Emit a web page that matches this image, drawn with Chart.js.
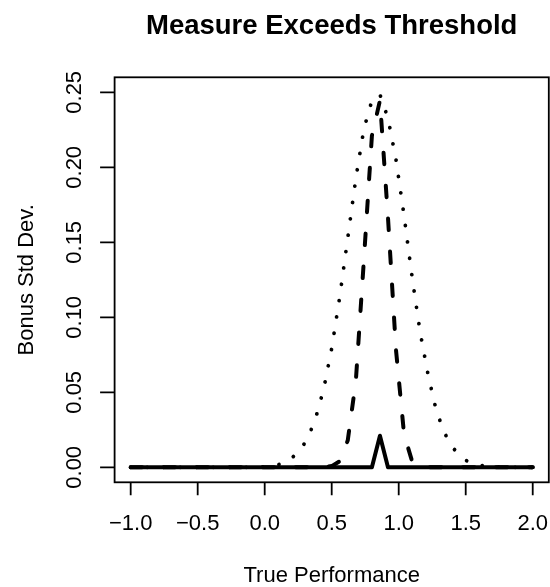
<!DOCTYPE html>
<html>
<head>
<meta charset="utf-8">
<script src="https://cdn.jsdelivr.net/npm/chart.js@4/dist/chart.umd.min.js"></script>
<style>
  html, body { margin: 0; padding: 0; background: #ffffff; }
  #wrap { width: 550px; height: 587px; }
</style>
</head>
<body>
<div id="wrap"><canvas id="c" width="550" height="587"></canvas></div>
<script>
// ---- Data ----
const chartTitle = "Measure Exceeds Threshold";
const xAxisTitle = "True Performance";
const yAxisTitle = "Bonus Std Dev.";

const xGrid = [-1.00, -0.94, -0.88, -0.82, -0.76, -0.70, -0.64, -0.58, -0.52, -0.46,
               -0.40, -0.34, -0.28, -0.22, -0.16, -0.10, -0.04, 0.02, 0.08, 0.14,
                0.20, 0.26, 0.32, 0.38, 0.44, 0.50, 0.56, 0.62, 0.68, 0.74,
                0.80, 0.86, 0.92, 0.98, 1.04, 1.10, 1.16, 1.22, 1.28, 1.34,
                1.40, 1.46, 1.52, 1.58, 1.64, 1.70, 1.76, 1.82, 1.88, 1.94, 2.00];

// solid line (narrowest)
const solidValues = [0, 0, 0, 0, 0, 0, 0, 0, 0, 0,
                     0, 0, 0, 0, 0, 0, 0, 0, 0, 0,
                     0, 0, 0, 0, 0, 0, 0, 0, 0, 0,
                     0, 0.021, 0, 0, 0, 0, 0, 0, 0, 0,
                     0, 0, 0, 0, 0, 0, 0, 0, 0, 0, 0];

// dashed line (medium)
const dashedValues = [0, 0, 0, 0, 0, 0, 0, 0, 0, 0,
                      0, 0, 0, 0, 0, 0, 0, 0, 0, 0,
                      0, 0, 0, 0, 0, 0.0008, 0.004, 0.018, 0.0575, 0.138,
                      0.221, 0.2445, 0.1665, 0.078, 0.022, 0.004, 0.0004, 0, 0, 0,
                      0, 0, 0, 0, 0, 0, 0, 0, 0, 0, 0];

// dotted line (widest)
const dottedValues = [0, 0, 0, 0, 0, 0, 0, 0, 0, 0,
                      0, 0, 0, 0, 0, 0, 0, 0.0003, 0.001, 0.003,
                      0.006, 0.011, 0.019, 0.0327, 0.052, 0.0793, 0.1137, 0.153, 0.1925, 0.2255,
                      0.2445, 0.2485, 0.2327, 0.205, 0.1677, 0.1267, 0.090, 0.0614, 0.038, 0.0232,
                      0.0134, 0.0075, 0.0035, 0.0018, 0.0009, 0.0004, 0.0001, 0, 0, 0, 0];

const xTickValues = [-1.0, -0.5, 0.0, 0.5, 1.0, 1.5, 2.0];
const xTickLabels = ["\u22121.0", "\u22120.5", "0.0", "0.5", "1.0", "1.5", "2.0"];
const yTickValues = [0.00, 0.05, 0.10, 0.15, 0.20, 0.25];
const yTickLabels = ["0.00", "0.05", "0.10", "0.15", "0.20", "0.25"];

// ---- Build ----
function pts(vals) { return xGrid.map((x, i) => ({ x: x, y: vals[i] })); }

const FONT = '"Liberation Sans", Arial, Helvetica, sans-serif';

const axesPlugin = {
  id: 'rAxes',
  afterDraw(chart) {
    const ctx = chart.ctx;
    const ca = chart.chartArea;
    const xs = chart.scales.x, ys = chart.scales.y;
    ctx.save();
    ctx.strokeStyle = '#000';
    ctx.fillStyle = '#000';
    ctx.lineWidth = 1.8;
    ctx.lineCap = 'butt';
    ctx.setLineDash([]);
    // box
    ctx.strokeRect(ca.left, ca.top, ca.right - ca.left, ca.bottom - ca.top);
    // x ticks
    ctx.beginPath();
    xTickValues.forEach(v => {
      const px = xs.getPixelForValue(v);
      ctx.moveTo(px, ca.bottom);
      ctx.lineTo(px, ca.bottom + 13);
    });
    // y ticks
    yTickValues.forEach(v => {
      const py = ys.getPixelForValue(v);
      ctx.moveTo(ca.left, py);
      ctx.lineTo(ca.left - 14.5, py);
    });
    ctx.stroke();

    // x tick labels
    ctx.font = '22px ' + FONT;
    ctx.textAlign = 'center';
    ctx.textBaseline = 'alphabetic';
    xTickValues.forEach((v, i) => {
      ctx.fillText(xTickLabels[i], xs.getPixelForValue(v), ca.bottom + 48);
    });
    // y tick labels (rotated)
    yTickValues.forEach((v, i) => {
      const py = ys.getPixelForValue(v);
      ctx.save();
      ctx.translate(ca.left - 33.5, py);
      ctx.rotate(-Math.PI / 2);
      ctx.fillText(yTickLabels[i], 0, 0);
      ctx.restore();
    });
    // x axis title
    const cx = (ca.left + ca.right) / 2;
    ctx.fillText(xAxisTitle, cx, ca.bottom + 99.5);
    // y axis title
    ctx.save();
    ctx.translate(ca.left - 81.5, (ca.top + ca.bottom) / 2);
    ctx.rotate(-Math.PI / 2);
    ctx.fillText(yAxisTitle, 0, 0);
    ctx.restore();
    // main title
    ctx.font = 'bold 27.5px ' + FONT;
    ctx.fillText(chartTitle, cx, 33.5);
    ctx.restore();
  }
};

new Chart(document.getElementById('c'), {
  type: 'line',
  data: {
    datasets: [
      {
        label: 'solid',
        data: pts(solidValues),
        borderColor: '#000',
        borderWidth: 4,
        borderCapStyle: 'round',
        borderJoinStyle: 'round',
        pointRadius: 0,
        tension: 0,
        fill: false
      },
      {
        label: 'dashed',
        data: pts(dashedValues),
        borderColor: '#000',
        borderWidth: 4,
        borderDash: [11.5, 21.5],
        borderCapStyle: 'round',
        borderJoinStyle: 'round',
        pointRadius: 0,
        tension: 0,
        fill: false
      },
      {
        label: 'dotted',
        data: pts(dottedValues),
        borderColor: '#000',
        borderWidth: 3.8,
        borderDash: [0.01, 16.5],
        borderCapStyle: 'round',
        borderJoinStyle: 'round',
        pointRadius: 0,
        tension: 0,
        fill: false
      }
    ]
  },
  options: {
    responsive: false,
    devicePixelRatio: 1,
    animation: false,
    clip: false,
    layout: { padding: { left: 114.6, top: 77.3, right: 1.2, bottom: 104.7 } },
    plugins: { legend: { display: false }, tooltip: { enabled: false }, title: { display: false } },
    scales: {
      x: { type: 'linear', min: -1.12, max: 2.12, display: false },
      y: { type: 'linear', min: -0.01, max: 0.26, display: false }
    }
  },
  plugins: [axesPlugin]
});
</script>
</body>
</html>
